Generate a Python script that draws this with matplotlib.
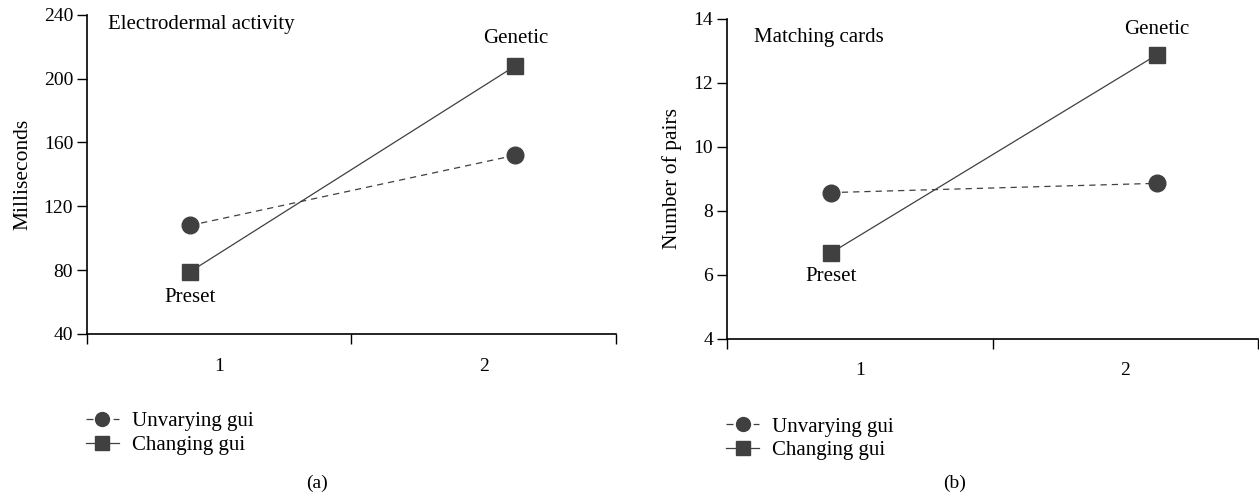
import matplotlib
matplotlib.use("Agg")
import matplotlib.pyplot as plt
from matplotlib.lines import Line2D

plt.rcParams['font.family'] = ['Liberation Serif', 'DejaVu Serif']
plt.rcParams['font.size'] = 14

# Data
x_pos = [0.39, 1.62]
categories = ["1", "2"]

eda_unvarying = [108, 152]
eda_changing = [79, 208]

cards_unvarying = [8.57, 8.86]
cards_changing = [6.68, 12.88]

series_labels = ["Unvarying gui", "Changing gui"]
color = "#404040"

fig = plt.figure(figsize=(12.59, 4.94), dpi=100)
ax1 = fig.add_axes([0.0691, 0.324, 0.420, 0.646])
ax2 = fig.add_axes([0.5775, 0.314, 0.4218, 0.648])


def style(ax, ylim, yticks, ylabel):
    ax.set_xlim(0, 2)
    ax.set_ylim(*ylim)
    ax.set_yticks(yticks)
    ax.set_yticklabels([str(t) for t in yticks])
    ax.set_xticks([0, 1, 2])
    ax.set_xticklabels(["", "", ""])
    ax.set_xticks([0.5, 1.5], minor=True)
    ax.set_xticklabels(categories, minor=True)
    ax.tick_params(axis='x', which='major', direction='out', length=7, width=1)
    ax.tick_params(axis='x', which='minor', length=0, pad=17, labelsize=14)
    ax.tick_params(axis='y', direction='out', length=7, width=1, labelsize=14, pad=3)
    for s in ['top', 'right']:
        ax.spines[s].set_visible(False)
    for s in ['left', 'bottom']:
        ax.spines[s].set_linewidth(1.2)
    ax.set_ylabel(ylabel, fontsize=15.5, labelpad=8)


ms = 12
# Panel (a)
ax1.plot(x_pos, eda_unvarying, linestyle=(0, (5, 4)), color=color, lw=0.9,
         marker='o', markersize=ms, markerfacecolor=color, markeredgecolor=color)
ax1.plot(x_pos, eda_changing, linestyle='-', color=color, lw=0.9,
         marker='s', markersize=ms, markerfacecolor=color, markeredgecolor=color)
style(ax1, (40, 240), [40, 80, 120, 160, 200, 240], "Milliseconds")
ax1.text(0.08, 234, "Electrodermal activity", fontsize=15, va='center', ha='left')
ax1.text(x_pos[1], 225, "Genetic", fontsize=15, va='center', ha='center')
ax1.text(x_pos[0], 63, "Preset", fontsize=15, va='center', ha='center')

# Panel (b)
ax2.plot(x_pos, cards_unvarying, linestyle=(0, (5, 4)), color=color, lw=0.9,
         marker='o', markersize=ms, markerfacecolor=color, markeredgecolor=color)
ax2.plot(x_pos, cards_changing, linestyle='-', color=color, lw=0.9,
         marker='s', markersize=ms, markerfacecolor=color, markeredgecolor=color)
style(ax2, (4, 14), [4, 6, 8, 10, 12, 14], "Number of pairs")
ax2.text(0.10, 13.43, "Matching cards", fontsize=15, va='center', ha='left')
ax2.text(x_pos[1], 13.65, "Genetic", fontsize=15, va='center', ha='center')
ax2.text(x_pos[0], 5.95, "Preset", fontsize=15, va='center', ha='center')

handles = [
    Line2D([], [], linestyle=(0, (5.6, 16.1)), color=color, lw=0.9, marker='o',
           markersize=10, markerfacecolor=color, markeredgecolor=color),
    Line2D([], [], linestyle='-', color=color, lw=0.9, marker='s',
           markersize=10, markerfacecolor=color, markeredgecolor=color),
]
for ax in (ax1, ax2):
    ax.legend(handles, series_labels, loc='upper left', bbox_to_anchor=(-0.018, -0.218),
              frameon=False, fontsize=15, handlelength=1.6, handletextpad=0.6,
              labelspacing=0.2, borderaxespad=0)

fig.text(0.252, 0.022, "(a)", fontsize=14, ha='center', va='center')
fig.text(0.7585, 0.022, "(b)", fontsize=14, ha='center', va='center')

fig.savefig("out.png", dpi=100)
